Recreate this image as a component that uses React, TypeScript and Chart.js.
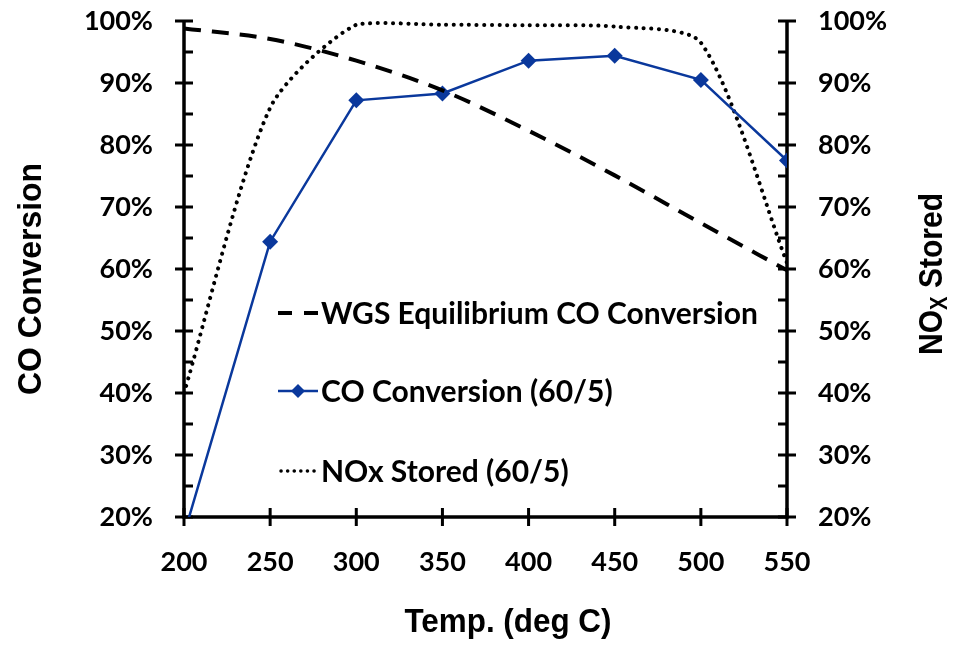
import React, { useEffect, useRef } from "react";
import { Chart, registerables } from "chart.js";

Chart.register(...registerables);

const temps = [200, 250, 300, 350, 400, 450, 500, 550];
const wgsEquilibrium = [98.8, 97.1, 93.6, 88.8, 82.3, 75.1, 67.4, 59.8];
const coConversion = [17.2, 64.4, 87.2, 88.3, 93.6, 94.4, 90.5, 77.5];
const noxStored = [40, 86, 99.4, 99.4, 99.3, 99.1, 96.5, 61];

const legendLabels = [
  "WGS Equilibrium CO Conversion",
  "CO Conversion (60/5)",
  "NOx Stored (60/5)",
];
const xTitle = "Temp. (deg C)";
const yTitle = "CO Conversion";
const y2TitleMain = "NO";
const y2TitleSub = "X";
const y2TitleRest = " Stored";

const BLUE = "#0a389c";
const TICK_FONT = { family: "Lato, 'Open Sans', sans-serif", size: 27, weight: "bold" as const };
const TITLE_FAMILY = "'Liberation Sans', Arial, sans-serif";
const LEGEND_FONT = "bold 30px Lato, 'Open Sans', sans-serif";

const toPoints = (ys: number[]) => temps.map((x, i) => ({ x, y: ys[i] }));

function drawSquashed(ctx: CanvasRenderingContext2D, text: string, cx: number, cy: number, targetW: number, rot: number) {
  ctx.save();
  ctx.font = `bold 34px ${TITLE_FAMILY}`;
  const w = ctx.measureText(text).width;
  ctx.translate(cx, cy);
  ctx.rotate(rot);
  ctx.scale(targetW / w, 1);
  ctx.textAlign = "center";
  ctx.textBaseline = "middle";
  ctx.fillText(text, 0, 0);
  ctx.restore();
}

const axesPlugin = {
  id: "customAxes",
  beforeDatasetsDraw(chart: any) {
    const { ctx, chartArea } = chart;
    const { left, right, top, bottom } = chartArea;
    const y = chart.scales.y;
    const x = chart.scales.x;
    ctx.save();
    ctx.strokeStyle = "#000";
    ctx.lineWidth = 3.5;
    ctx.lineCap = "butt";
    ctx.beginPath();
    ctx.moveTo(left, top);
    ctx.lineTo(left, bottom);
    ctx.moveTo(right, top);
    ctx.lineTo(right, bottom);
    ctx.moveTo(left - 1.75, bottom);
    ctx.lineTo(right + 1.75, bottom);
    ctx.stroke();
    ctx.lineWidth = 3;
    ctx.beginPath();
    for (let v = 20; v <= 100; v += 5) {
      const py = y.getPixelForValue(v);
      const major = v % 10 === 0;
      if (major) {
        ctx.moveTo(left - 9, py);
        ctx.lineTo(left + 9, py);
        ctx.moveTo(right - 9, py);
        ctx.lineTo(right + 9, py);
      } else {
        ctx.moveTo(left, py);
        ctx.lineTo(left + 9, py);
        ctx.moveTo(right - 9, py);
        ctx.lineTo(right, py);
      }
    }
    for (const t of temps) {
      const px = x.getPixelForValue(t);
      ctx.moveTo(px, bottom - 9);
      ctx.lineTo(px, bottom + 9);
    }
    ctx.stroke();
    ctx.restore();
  },
  afterDraw(chart: any) {
    const { ctx } = chart;
    ctx.save();
    ctx.fillStyle = "#000";
    drawSquashed(ctx, xTitle, 500, 615, 207, 0);
    drawSquashed(ctx, yTitle, 24, 271, 232, -Math.PI / 2);

    // right title with subscript
    ctx.save();
    const big = `bold 34px ${TITLE_FAMILY}`;
    const small = `bold 23px ${TITLE_FAMILY}`;
    ctx.font = big;
    const wMain = ctx.measureText(y2TitleMain).width;
    const wRest = ctx.measureText(y2TitleRest).width;
    ctx.font = small;
    const wSub = ctx.measureText(y2TitleSub).width;
    const total = wMain + wSub + wRest;
    ctx.translate(925, 266);
    ctx.rotate(-Math.PI / 2);
    ctx.scale(162 / total, 1);
    ctx.textAlign = "left";
    ctx.textBaseline = "middle";
    let cx = -total / 2;
    ctx.font = big;
    ctx.fillText(y2TitleMain, cx, 0);
    cx += wMain;
    ctx.font = small;
    ctx.fillText(y2TitleSub, cx, 8);
    cx += wSub;
    ctx.font = big;
    ctx.fillText(y2TitleRest, cx, 0);
    ctx.restore();

    // legend
    const rows = [305, 383, 463];
    const x0 = 270;
    const x1 = 310;
    const tx = 313;
    ctx.font = LEGEND_FONT;
    ctx.textAlign = "left";
    ctx.textBaseline = "middle";
    ctx.strokeStyle = "#000";
    ctx.lineWidth = 4;
    ctx.setLineDash([14, 12]);
    ctx.beginPath();
    ctx.moveTo(x0, rows[0]);
    ctx.lineTo(x1, rows[0]);
    ctx.stroke();
    ctx.setLineDash([]);
    ctx.strokeStyle = BLUE;
    ctx.lineWidth = 2.5;
    ctx.beginPath();
    ctx.moveTo(x0, rows[1]);
    ctx.lineTo(x1, rows[1]);
    ctx.stroke();
    const mx = (x0 + x1) / 2;
    ctx.fillStyle = BLUE;
    ctx.beginPath();
    ctx.moveTo(mx, rows[1] - 7);
    ctx.lineTo(mx + 7, rows[1]);
    ctx.lineTo(mx, rows[1] + 7);
    ctx.lineTo(mx - 7, rows[1]);
    ctx.closePath();
    ctx.fill();
    ctx.strokeStyle = "#000";
    ctx.lineWidth = 3.5;
    ctx.lineCap = "round";
    ctx.setLineDash([0.1, 6.5]);
    ctx.beginPath();
    ctx.moveTo(x0 + 3, rows[2]);
    ctx.lineTo(x1, rows[2]);
    ctx.stroke();
    ctx.setLineDash([]);
    ctx.fillStyle = "#000";
    legendLabels.forEach((l, i) => {
      ctx.fillText(l, tx, rows[i] + 1);
    });
    ctx.restore();
  },
};

export default function App() {
  const ref = useRef<HTMLCanvasElement>(null);
  useEffect(() => {
    if (!ref.current) return;
    const pct = (v: any) => v + "%";
    const fitY = (w: number) => (s: any) => {
      s.width = w;
      s.paddingTop = 0;
      s.paddingBottom = 0;
    };
    const chart = new Chart(ref.current, {
      type: "line",
      data: {
        datasets: [
          {
            label: legendLabels[0],
            data: toPoints(wgsEquilibrium),
            borderColor: "#000",
            borderWidth: 4,
            borderDash: [17, 11],
            pointRadius: 0,
            cubicInterpolationMode: "monotone",
            yAxisID: "y",
          },
          {
            label: legendLabels[1],
            data: toPoints(coConversion),
            borderColor: BLUE,
            backgroundColor: BLUE,
            borderWidth: 2.5,
            pointStyle: "rectRot",
            pointRadius: 8,
            pointBorderWidth: 0,
            tension: 0,
            yAxisID: "y",
          },
          {
            label: legendLabels[2],
            data: toPoints(noxStored),
            borderColor: "#000",
            borderWidth: 4,
            borderDash: [0.1, 7.5],
            borderCapStyle: "round",
            pointRadius: 0,
            tension: 0.25,
            yAxisID: "y2",
          },
        ],
      },
      options: {
        responsive: true,
        maintainAspectRatio: false,
        animation: false,
        events: [],
        layout: { padding: { top: 13, left: 0, right: 0, bottom: 0 } },
        plugins: { legend: { display: false }, tooltip: { enabled: false } },
        scales: {
          x: {
            type: "linear",
            min: 200,
            max: 550,
            ticks: { stepSize: 50, font: TICK_FONT, color: "#000", padding: 29, autoSkip: false, maxRotation: 0 },
            grid: { display: false, drawTicks: false },
            border: { display: false },
            afterFit: (s: any) => { s.height = 123; },
          },
          y: {
            position: "left",
            min: 20,
            max: 100,
            ticks: { stepSize: 10, font: TICK_FONT, color: "#000", padding: 31, callback: pct },
            grid: { display: false, drawTicks: false },
            border: { display: false },
            afterFit: fitY(176),
          },
          y2: {
            position: "right",
            min: 20,
            max: 100,
            ticks: { stepSize: 10, font: TICK_FONT, color: "#000", padding: 31, callback: pct },
            grid: { display: false, drawTicks: false },
            border: { display: false },
            afterFit: fitY(166),
          },
        },
      },
      plugins: [axesPlugin],
    } as any);
    return () => chart.destroy();
  }, []);
  return (
    <div style={{ width: 945, height: 632, position: "relative" }}>
      <canvas ref={ref} />
    </div>
  );
}
